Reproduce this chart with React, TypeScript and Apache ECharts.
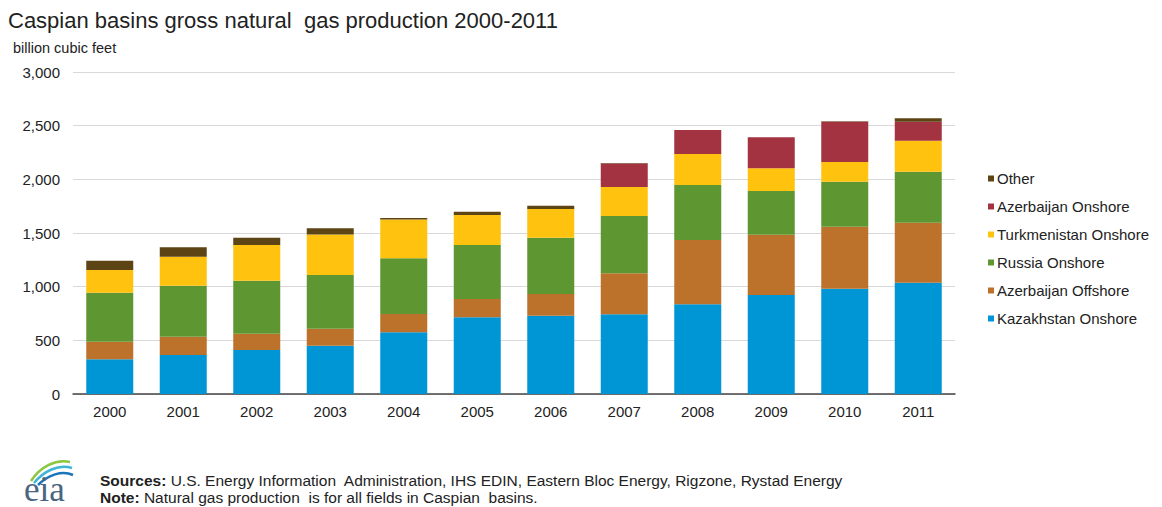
import React, { useEffect, useRef } from "react";
import * as echarts from "echarts";

const years = ["2000", "2001", "2002", "2003", "2004", "2005", "2006", "2007", "2008", "2009", "2010", "2011"];
const kazakhstanOnshore = [323, 363, 410, 450, 575, 715, 730, 742, 836, 922, 981, 1037];
const azerbaijanOffshore = [164, 171, 152, 158, 170, 170, 202, 382, 599, 562, 578, 559];
const russiaOnshore = [457, 475, 494, 501, 519, 503, 524, 534, 512, 407, 419, 475];
const turkmenistanOnshore = [211, 270, 332, 376, 361, 280, 268, 270, 289, 212, 184, 289];
const azerbaijanOnshore = [0, 0, 0, 0, 0, 0, 0, 220, 224, 289, 375, 177];
const other = [87, 88, 67, 60, 15, 31, 30, 5, 0, 0, 5, 31];
const yTicks = [0, 500, 1000, 1500, 2000, 2500, 3000];

const seriesDefs = [
  { name: "Kazakhstan Onshore", data: kazakhstanOnshore, color: "#0096d6" },
  { name: "Azerbaijan Offshore", data: azerbaijanOffshore, color: "#bd722c" },
  { name: "Russia Onshore", data: russiaOnshore, color: "#5e9732" },
  { name: "Turkmenistan Onshore", data: turkmenistanOnshore, color: "#ffc20e" },
  { name: "Azerbaijan Onshore", data: azerbaijanOnshore, color: "#a33340" },
  { name: "Other", data: other, color: "#5c4415" },
];

const FONT = "'Liberation Sans', Arial, sans-serif";

export default function App() {
  const ref = useRef<HTMLDivElement>(null);
  useEffect(() => {
    if (!ref.current) return;
    const chart = echarts.init(ref.current, null, { renderer: "svg" });
    chart.setOption({
      animation: false,
      backgroundColor: "#ffffff",
      textStyle: { fontFamily: FONT },
      legend: {
        orient: "vertical",
        left: 983,
        top: 166,
        itemWidth: 6,
        itemHeight: 6,
        itemGap: 13,
        icon: "rect",
        data: seriesDefs.map((s) => s.name).reverse(),
        textStyle: { fontSize: 15, color: "#222", fontFamily: FONT, padding: [0, 0, 0, -2] },
      },
      grid: { left: 73, right: 207, top: 72, bottom: 113 },
      xAxis: {
        type: "category",
        data: years,
        axisLine: { lineStyle: { color: "#444", width: 1.5 } },
        axisTick: { show: false },
        axisLabel: { fontSize: 15, color: "#222", margin: 10 },
      },
      yAxis: {
        type: "value",
        min: yTicks[0],
        max: yTicks[yTicks.length - 1],
        interval: 500,
        axisLine: { show: false },
        axisTick: { show: false },
        splitLine: { lineStyle: { color: "#d9d9d9" } },
        axisLabel: {
          fontSize: 15,
          color: "#222",
          margin: 13,
          formatter: (v: number) => v.toLocaleString("en-US"),
        },
      },
      series: seriesDefs.map((s) => ({
        name: s.name,
        type: "bar",
        stack: "total",
        data: s.data,
        barWidth: 47,
        itemStyle: { color: s.color },
      })),
      graphic: [
        {
          type: "text",
          x: 8,
          y: 20,
          style: {
            text: "Caspian basins gross natural  gas production 2000-2011",
            fontSize: 22,
            fontFamily: FONT,
            fill: "#222",
            verticalAlign: "middle",
          },
        },
        {
          type: "text",
          x: 13,
          y: 48,
          style: {
            text: "billion cubic feet",
            fontSize: 14.5,
            fontFamily: FONT,
            fill: "#222",
            verticalAlign: "middle",
          },
        },
        {
          type: "bezierCurve",
          shape: { x1: 31, y1: 481, cpx1: 40, cpy1: 467, x2: 70, y2: 462, cpx2: 55, cpy2: 459 },
          style: { stroke: "#8dc63f", lineWidth: 2.5, fill: "none" },
        },
        {
          type: "bezierCurve",
          shape: { x1: 34, y1: 483, cpx1: 44, cpy1: 471, x2: 72, y2: 468, cpx2: 58, cpy2: 464 },
          style: { stroke: "#3fb6d8", lineWidth: 2.5, fill: "none" },
        },
        {
          type: "bezierCurve",
          shape: { x1: 38, y1: 485, cpx1: 48, cpy1: 475, x2: 73, y2: 475, cpx2: 62, cpy2: 470 },
          style: { stroke: "#1b75bb", lineWidth: 2.5, fill: "none" },
        },
        {
          type: "text",
          x: 24,
          y: 489,
          style: {
            text: "eia",
            fontSize: 35,
            fontFamily: "'Liberation Serif', 'DejaVu Serif', serif",
            fill: "#4a6580",
            verticalAlign: "middle",
          },
        },
        {
          type: "text",
          x: 100,
          y: 480,
          style: {
            text: "{b|Sources:} U.S. Energy Information  Administration, IHS EDIN, Eastern Bloc Energy, Rigzone, Rystad Energy",
            fontSize: 15.5,
            fontFamily: FONT,
            fill: "#222",
            verticalAlign: "middle",
            rich: {
              b: { fontWeight: "bold", fontSize: 15.5, fontFamily: FONT, fill: "#222" },
            },
          },
        },
        {
          type: "text",
          x: 100,
          y: 497,
          style: {
            text: "{b|Note:} Natural gas production  is for all fields in Caspian  basins.",
            fontSize: 15.5,
            fontFamily: FONT,
            fill: "#222",
            verticalAlign: "middle",
            rich: {
              b: { fontWeight: "bold", fontSize: 15.5, fontFamily: FONT, fill: "#222" },
            },
          },
        },
      ],
    });
    return () => chart.dispose();
  }, []);
  return (
    <div
      ref={ref}
      style={{ position: "fixed", left: 0, top: 0, width: 1162, height: 507 }}
    />
  );
}
